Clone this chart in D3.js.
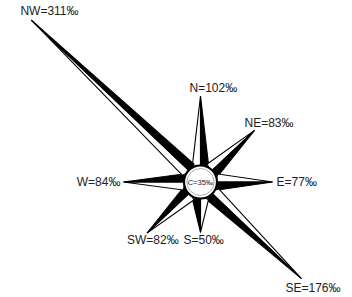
<!DOCTYPE html>
<html>
<head>
<meta charset="utf-8">
<script src="https://cdn.jsdelivr.net/npm/d3@7"></script>
<style>
  html, body { margin: 0; padding: 0; background: #fff; }
  svg { display: block; }
</style>
</head>
<body>
<svg id="chart" width="352" height="297"></svg>
<script>
// Data
const directions = ["N", "NE", "E", "SE", "S", "SW", "W", "NW"];
const angles = [0, 45, 90, 135, 180, 225, 270, 315];
const values = [102, 83, 77, 176, 50, 82, 84, 311];
const calm = 35;
const unit = "‰";

// Label placement style (relative to ray tip)
const labelStyle = {
  N:  {dx: -11, dy: -4, anchor: "start"},
  NE: {dx: -10, dy: -3, anchor: "start"},
  E:  {dx: 4,   dy: 4,  anchor: "start"},
  SE: {dx: -16, dy: 13, anchor: "start"},
  S:  {dx: -17, dy: 12, anchor: "start"},
  SW: {dx: -20, dy: 11, anchor: "start"},
  W:  {dx: -3,  dy: 4,  anchor: "end"},
  NW: {dx: -11, dy: -5, anchor: "start"}
};

const svg = d3.select("#chart");
const cx = 200.5, cy = 182;
const R = 16.5;     // central circle radius
const halfW = 8;    // half-width of ray base
const sx = 1.035, sy = 0.99;

const len = d3.scaleLinear().domain([0, 311]).range([R, R + 311 * 0.69]);

const g = svg.append("g").attr("transform", `translate(${cx},${cy})`);

const data = directions.map((d, i) => ({dir: d, angle: angles[i], value: values[i]}));

function pt(r, a, off, stretch) {
  const rad = a * Math.PI / 180;
  const ux = Math.sin(rad), uy = -Math.cos(rad);
  const nx = Math.cos(rad), ny = Math.sin(rad); // clockwise side normal
  const kx = stretch ? sx : 1, ky = stretch ? sy : 1;
  return [(r * ux) * kx + off * nx, (r * uy) * ky + off * ny];
}

const line = d3.line();

data.forEach(d => {
  const L = len(d.value);
  const tip = pt(L, d.angle, 0, true);
  const base = pt(R - 2, d.angle, 0, false);
  const cw = pt(R + 1, d.angle, halfW, false);
  const ccw = pt(R + 1, d.angle, -halfW, false);
  // white half (counter-clockwise side)
  g.append("path")
    .attr("d", line([base, ccw, tip]) + "Z")
    .attr("fill", "#fff").attr("stroke", "#000").attr("stroke-width", 1.1)
    .attr("stroke-linejoin", "miter");
  // black half (clockwise side)
  g.append("path")
    .attr("d", line([base, cw, tip]) + "Z")
    .attr("fill", "#000").attr("stroke", "#000").attr("stroke-width", 1.1)
    .attr("stroke-linejoin", "miter");
  d.tip = tip;
});

// center circle
g.append("circle").attr("r", R).attr("fill", "#fff")
  .attr("stroke", "#000").attr("stroke-width", 2.2);
g.append("circle").attr("r", R - 3).attr("fill", "none")
  .attr("stroke", "#777").attr("stroke-width", 0.6);

g.append("text").attr("x", 0).attr("y", 2.5)
  .attr("text-anchor", "middle")
  .attr("font-family", "Liberation Sans, Arial, sans-serif")
  .attr("font-size", 7.5).attr("fill", "#222")
  .text(`C=${calm}${unit}`);

// labels
g.selectAll("text.lbl").data(data).join("text")
  .attr("class", "lbl")
  .attr("x", d => d.tip[0] + labelStyle[d.dir].dx)
  .attr("y", d => d.tip[1] + labelStyle[d.dir].dy)
  .attr("text-anchor", d => labelStyle[d.dir].anchor)
  .attr("font-family", "Liberation Sans, Arial, sans-serif")
  .attr("font-size", 12).attr("fill", "#222")
  .text(d => `${d.dir}=${d.value}${unit}`);
</script>
</body>
</html>
